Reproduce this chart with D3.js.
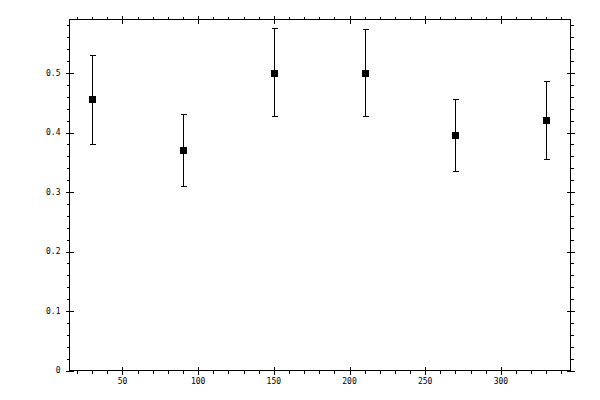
<!DOCTYPE html>
<html>
<head>
<meta charset="utf-8">
<script src="https://cdn.jsdelivr.net/npm/d3@7"></script>
<style>
  body { margin: 0; background: #fff; }
  svg { display: block; }
  text { font-family: "DejaVu Sans Mono", monospace; font-size: 8px; fill: #000; }
</style>
</head>
<body>
<div id="chart"></div>
<script>
var xValues = [30, 90, 150, 210, 270, 330];
var yValues = [0.456, 0.371, 0.500, 0.500, 0.396, 0.421];
var yLow = [0.380, 0.310, 0.427, 0.427, 0.336, 0.355];
var yHigh = [0.530, 0.431, 0.576, 0.574, 0.456, 0.486];
var xTicks = [50, 100, 150, 200, 250, 300];
var yTicks = [0, 0.1, 0.2, 0.3, 0.4, 0.5];

function make_plot() {
    var width = 600, height = 400;
    var svg = d3.select("#chart").append("svg")
        .attr("width", width)
        .attr("height", height);

    var left = 69.5, right = 570.5, top = 19.5, bottom = 370.5;

    var xScale = d3.scaleLinear([15, 346], [left, right]);
    var yScale = d3.scaleLinear([0, 0.59], [bottom, top]);

    var xMinor = d3.range(20, 346, 10);
    var yMinor = d3.range(0, 0.59, 0.02).map(function(v) { return +v.toFixed(2); });

    // frame
    svg.append("rect")
        .attr("x", left).attr("y", top)
        .attr("width", right - left).attr("height", bottom - top)
        .attr("fill", "none").attr("stroke", "#000")
        .attr("shape-rendering", "crispEdges");

    // minor ticks (outward) on all four sides, major ticks crossing
    function sideTicks(g, vals, scale, orient, len0, len1) {
        g.selectAll(null).data(vals).enter().append("line")
            .attr("x1", function(d) { return orient == "h" ? Math.round(scale(d)) + 0.5 : len0; })
            .attr("x2", function(d) { return orient == "h" ? Math.round(scale(d)) + 0.5 : len1; })
            .attr("y1", function(d) { return orient == "h" ? len0 : Math.round(scale(d)) + 0.5; })
            .attr("y2", function(d) { return orient == "h" ? len1 : Math.round(scale(d)) + 0.5; })
            .attr("stroke", "#000")
            .attr("shape-rendering", "crispEdges");
    }
    var ticks = svg.append("g");
    sideTicks(ticks, xMinor, xScale, "h", bottom, bottom + 3);
    sideTicks(ticks, xMinor, xScale, "h", top, top - 3);
    sideTicks(ticks, yMinor, yScale, "v", left, left - 3);
    sideTicks(ticks, yMinor, yScale, "v", right, right + 3);
    sideTicks(ticks, xTicks, xScale, "h", bottom - 4, bottom + 4);
    sideTicks(ticks, xTicks, xScale, "h", top - 4, top + 4);
    sideTicks(ticks, yTicks, yScale, "v", left - 4, left + 4);
    sideTicks(ticks, yTicks, yScale, "v", right - 4, right + 4);

    // tick labels
    svg.append("g").selectAll("text").data(xTicks).enter().append("text")
        .attr("x", function(d) { return xScale(d); })
        .attr("y", bottom + 13)
        .attr("text-anchor", "middle")
        .text(function(d) { return d; });

    svg.append("g").selectAll("text").data(yTicks).enter().append("text")
        .attr("x", left - 9)
        .attr("y", function(d) { return yScale(d); })
        .attr("dy", "0.32em")
        .attr("text-anchor", "end")
        .text(function(d) { return d3.format("")(d); });

    // error bars
    var idx = d3.range(xValues.length);
    var bars = svg.append("g").attr("stroke", "#000").attr("shape-rendering", "crispEdges");
    bars.selectAll(".stem").data(idx).enter().append("line")
        .attr("x1", function(i) { return Math.round(xScale(xValues[i])) + 0.5; })
        .attr("x2", function(i) { return Math.round(xScale(xValues[i])) + 0.5; })
        .attr("y1", function(i) { return yScale(yLow[i]); })
        .attr("y2", function(i) { return yScale(yHigh[i]); });
    [yLow, yHigh].forEach(function(arr) {
        bars.selectAll(null).data(idx).enter().append("line")
            .attr("x1", function(i) { return Math.round(xScale(xValues[i])) - 2.5; })
            .attr("x2", function(i) { return Math.round(xScale(xValues[i])) + 3.5; })
            .attr("y1", function(i) { return Math.round(yScale(arr[i])) + 0.5; })
            .attr("y2", function(i) { return Math.round(yScale(arr[i])) + 0.5; });
    });

    // markers
    svg.append("g").selectAll("rect").data(idx).enter().append("rect")
        .attr("x", function(i) { return Math.round(xScale(xValues[i])) - 3; })
        .attr("y", function(i) { return Math.round(yScale(yValues[i])) - 3; })
        .attr("width", 7)
        .attr("height", 7)
        .attr("fill", "#000")
        .attr("shape-rendering", "crispEdges");
}

make_plot();
</script>
</body>
</html>
